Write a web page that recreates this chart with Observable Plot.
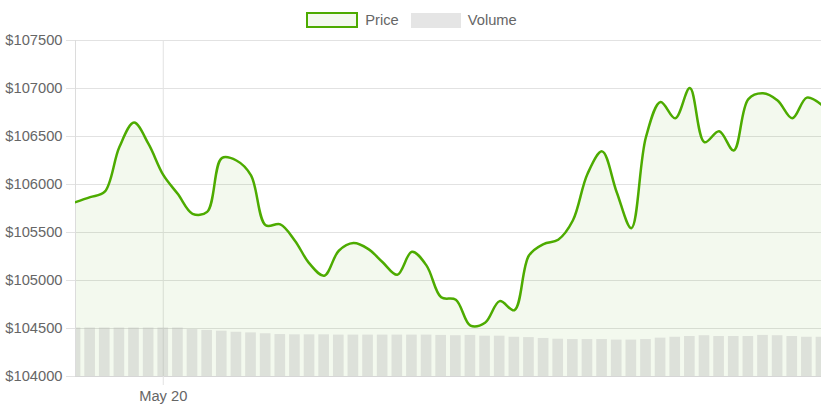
<!DOCTYPE html>
<html>
<head>
<meta charset="utf-8">
<script src="https://cdn.jsdelivr.net/npm/d3@7"></script>
<script src="https://cdn.jsdelivr.net/npm/@observablehq/plot@0.6"></script>
<style>
  html, body { margin: 0; padding: 0; background: #fff; }
  body { font-family: "Liberation Sans", Arial, Helvetica, sans-serif; color: #666; width: 822px; }
  #legend { height: 32px; display: flex; justify-content: center; align-items: flex-start; padding-top: 12px; font-size: 14.7px; padding-left: 1px; box-sizing: border-box; }
  .item { display: flex; align-items: center; height: 16px; }
  .item + .item { margin-left: 12px; }
  .sw { box-sizing: border-box; margin-right: 7px; }
  #chart svg { display: block; }
</style>
</head>
<body>
<div id="legend"></div>
<div id="chart"></div>
<script>
// ---- data ----
const times = [
  "2025-05-19T21:00Z","2025-05-19T21:30Z","2025-05-19T22:00Z","2025-05-19T22:30Z",
  "2025-05-19T23:00Z","2025-05-19T23:30Z","2025-05-20T00:00Z","2025-05-20T00:30Z",
  "2025-05-20T01:00Z","2025-05-20T01:30Z","2025-05-20T02:00Z","2025-05-20T02:30Z",
  "2025-05-20T03:00Z","2025-05-20T03:30Z","2025-05-20T04:00Z","2025-05-20T04:30Z",
  "2025-05-20T05:00Z","2025-05-20T05:30Z","2025-05-20T06:00Z","2025-05-20T06:30Z",
  "2025-05-20T07:00Z","2025-05-20T07:30Z","2025-05-20T08:00Z","2025-05-20T08:30Z",
  "2025-05-20T09:00Z","2025-05-20T09:30Z","2025-05-20T10:00Z","2025-05-20T10:30Z",
  "2025-05-20T11:00Z","2025-05-20T11:30Z","2025-05-20T12:00Z","2025-05-20T12:30Z",
  "2025-05-20T13:00Z","2025-05-20T13:30Z","2025-05-20T14:00Z","2025-05-20T14:30Z",
  "2025-05-20T15:00Z","2025-05-20T15:30Z","2025-05-20T16:00Z","2025-05-20T16:30Z",
  "2025-05-20T17:00Z","2025-05-20T17:30Z","2025-05-20T18:00Z","2025-05-20T18:30Z",
  "2025-05-20T19:00Z","2025-05-20T19:30Z","2025-05-20T20:00Z","2025-05-20T20:30Z",
  "2025-05-20T21:00Z","2025-05-20T21:30Z","2025-05-20T22:00Z","2025-05-20T22:30Z"
];
const prices = [
  105816, 105868, 105925, 106390, 106645, 106420, 106100, 105900,
  105695, 105715, 106275, 106250, 106095, 105575, 105585, 105415,
  105175, 105050, 105310, 105390, 105330, 105190, 105060, 105300,
  105155, 104825, 104800, 104530, 104560, 104785, 104690, 105260,
  105380, 105425, 105625, 106110, 106345, 105920, 105545, 106495,
  106860, 106690, 107005, 106440, 106555, 106355, 106890, 106950,
  106875, 106690, 106905, 106830
];
// volume, billions USD
const volumes = [
  32.0, 32.0, 32.0, 32.0, 32.0, 32.0, 32.0, 32.0,
  31.0, 30.4, 29.9, 29.2, 28.8, 28.2, 27.7, 27.5,
  27.5, 27.5, 27.3, 27.3, 27.3, 27.3, 27.3, 27.3,
  27.3, 27.1, 26.9, 27.1, 26.6, 26.6, 25.9, 25.7,
  25.1, 24.6, 24.4, 24.4, 24.4, 24.0, 24.0, 24.4,
  25.3, 25.9, 26.4, 26.9, 26.4, 26.4, 26.4, 27.1,
  26.9, 26.4, 25.9, 25.9
];
const xTicks = ["2025-05-20T00:00Z"];
const yTicks = [104000, 104500, 105000, 105500, 106000, 106500, 107000, 107500];
const series = ["Price", "Volume"];

// ---- styling ----
const GREEN = "#4dab00";
const GRID = "#e2e2e2";
const BASE = yTicks[0];
const VOL_K = 505 / 32; // price-units per billion for the volume overlay
const HALF = 15 * 60 * 1000; // half interval

const data = times.map((t, i) => ({ date: new Date(t), price: prices[i], volume: volumes[i] }));

// legend
const legend = document.getElementById("legend");
series.forEach((name, i) => {
  const it = document.createElement("div");
  it.className = "item";
  const sw = document.createElement("span");
  sw.className = "sw";
  if (i === 0) {
    sw.style.cssText = `width:52px;height:16px;border:2.5px solid ${GREEN};background:#f3f9ee;`;
  } else {
    sw.style.cssText = "width:50px;height:15px;background:#e5e5e5;";
  }
  const tx = document.createElement("span");
  tx.textContent = name;
  it.appendChild(sw); it.appendChild(tx);
  legend.appendChild(it);
});

const chart = Plot.plot({
  width: 822,
  height: 379,
  marginTop: 8,
  marginBottom: 35,
  marginLeft: 75,
  marginRight: 1,
  style: { fontFamily: '"Liberation Sans", Arial, Helvetica, sans-serif', fontSize: "14.7px", color: "#666", background: "#fff" },
  x: { type: "utc", domain: [data[0].date, data[data.length - 1].date] },
  y: { domain: [yTicks[0], yTicks[yTicks.length - 1]] },
  marks: [
    Plot.gridY(yTicks, { stroke: GRID, strokeOpacity: 1 }),
    Plot.gridX(xTicks.map(d => new Date(d)), { stroke: GRID, strokeOpacity: 1 }),
    Plot.areaY(data, { x: "date", y1: BASE, y2: "price", curve: "catmull-rom", fill: "rgba(80,170,0,0.065)" }),
    Plot.rect(data, {
      x1: d => new Date(+d.date - HALF), x2: d => new Date(+d.date + HALF),
      y1: BASE, y2: d => BASE + d.volume * VOL_K,
      insetLeft: 2, insetRight: 2,
      fill: "rgba(180,180,180,0.35)", clip: true
    }),
    Plot.ruleY([BASE], { stroke: "#d6d6d6" }),
    Plot.ruleX([data[0].date], { stroke: "#dcdcdc" }),
    Plot.axisY(yTicks, { tickSize: 9, tickPadding: 4, stroke: GRID, fill: "#666", tickFormat: d => "$" + d, label: null }),
    Plot.axisX(xTicks.map(d => new Date(d)), { tickSize: 9, tickPadding: 5, stroke: GRID, fill: "#666", tickFormat: d3.utcFormat("%b %-d"), label: null }),
    Plot.lineY(data, { x: "date", y: "price", curve: "catmull-rom", stroke: GREEN, strokeWidth: 2.5, clip: true })
  ]
});
document.getElementById("chart").appendChild(chart);
</script>
</body>
</html>
